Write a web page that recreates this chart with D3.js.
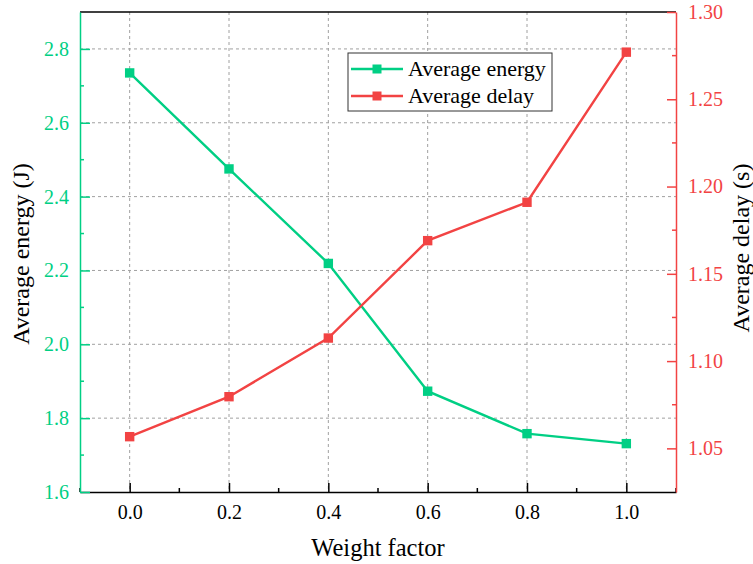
<!DOCTYPE html>
<meta charset="utf-8">
<style>
 body { margin: 0; background: #fff; }
 svg text { font-family: "Liberation Serif", "Times New Roman", serif; }
 .grid line { stroke: #a0a0a0; stroke-dasharray: 3,3; stroke-width: 1; }
</style>
<body>
<script src="https://cdn.jsdelivr.net/npm/d3@7"></script>
<script>

 // data
 var weights = [0.0, 0.2, 0.4, 0.6, 0.8, 1.0];
 var energy  = [2.735, 2.475, 2.219, 1.873, 1.758, 1.731];
 var delay   = [1.0567, 1.0796, 1.1132, 1.169, 1.191, 1.277];
 var energyTicks = [1.6, 1.8, 2.0, 2.2, 2.4, 2.6, 2.8];
 var delayTicks  = [1.05, 1.10, 1.15, 1.20, 1.25, 1.30];

 var green = "#00cf84",
     red = "#f24343";

 var margin = {top: 12, right: 77, bottom: 72, left: 80},
     width = 753 - margin.left - margin.right,
     height = 564 - margin.top - margin.bottom;

 var x = d3.scaleLinear().domain([-0.1, 1.1]).range([0, width]);
 var yE = d3.scaleLinear().domain([1.6, 2.9]).range([height, 0]);
 var yD = d3.scaleLinear().domain([1.025, 1.30]).range([height, 0]);

 var svg = d3.select("body").append("svg")
     .attr("width", 753)
     .attr("height", 564)
   .append("g")
     .attr("transform", "translate(" + margin.left + "," + margin.top + ")");

 // grid
 var grid = svg.append("g").attr("class", "grid");
 grid.selectAll(".vg").data(weights).enter().append("line")
     .attr("x1", d => x(d)).attr("x2", d => x(d))
     .attr("y1", 0).attr("y2", height);
 grid.selectAll(".hg").data(energyTicks.slice(1)).enter().append("line")
     .attr("x1", 0).attr("x2", width)
     .attr("y1", d => yE(d)).attr("y2", d => yE(d));

 // top frame line
 svg.append("line")
     .attr("x1", 0).attr("x2", width).attr("y1", 0).attr("y2", 0)
     .attr("stroke", "#000").attr("stroke-width", 1.5);

 function styleAxis(g, color, fontSize) {
     g.attr("font-family", null);
     g.select(".domain").attr("stroke", color).attr("stroke-width", 1.5);
     g.selectAll(".tick line").attr("stroke", color).attr("stroke-width", 1.5);
     g.selectAll(".tick text").attr("fill", color)
      .style("font-family", '"Liberation Serif", serif')
      .style("font-size", fontSize + "px");
 }

 // minor ticks
 var xMinor = d3.range(-0.1, 1.11, 0.2).map(d => Math.round(d * 10) / 10);
 var eMinor = d3.range(1.7, 2.9, 0.2).map(d => Math.round(d * 10) / 10);
 var dMinor = d3.range(1.075, 1.30, 0.05).map(d => Math.round(d * 1000) / 1000);

 var gx = svg.append("g").attr("transform", "translate(0," + height + ")")
     .call(d3.axisBottom(x).tickValues(weights).tickFormat(d3.format(".1f"))
           .tickSizeInner(-9).tickSizeOuter(0).tickPadding(13));
 styleAxis(gx, "#000", 20);
 gx.selectAll(".minor").data(xMinor).enter().append("line")
     .attr("x1", d => x(d)).attr("x2", d => x(d)).attr("y1", 0).attr("y2", -4)
     .attr("stroke", "#000").attr("stroke-width", 1.5);

 var gl = svg.append("g")
     .call(d3.axisLeft(yE).tickValues(energyTicks).tickFormat(d3.format(".1f"))
           .tickSizeInner(-10).tickSizeOuter(0).tickPadding(11));
 styleAxis(gl, green, 20);
 gl.selectAll(".minor").data(eMinor).enter().append("line")
     .attr("x1", 0).attr("x2", 4).attr("y1", d => yE(d)).attr("y2", d => yE(d))
     .attr("stroke", green).attr("stroke-width", 1.5);

 var gr = svg.append("g").attr("transform", "translate(" + width + ",0)")
     .call(d3.axisRight(yD).tickValues(delayTicks).tickFormat(d3.format(".2f"))
           .tickSizeInner(-9).tickSizeOuter(0).tickPadding(12));
 styleAxis(gr, red, 20);
 gr.selectAll(".minor").data(dMinor).enter().append("line")
     .attr("x1", 0).attr("x2", -4).attr("y1", d => yD(d)).attr("y2", d => yD(d))
     .attr("stroke", red).attr("stroke-width", 1.5);

 // axis titles
 svg.append("text")
     .attr("transform", "translate(" + (-51) + "," + (height / 2 + 2) + ") rotate(-90)")
     .attr("text-anchor", "middle").attr("font-size", 24)
     .text("Average energy (J)");
 svg.append("text")
     .attr("transform", "translate(" + (width + 73) + "," + (height / 2 - 4) + ") rotate(-90)")
     .attr("text-anchor", "middle").attr("font-size", 24)
     .text("Average delay (s)");
 svg.append("text")
     .attr("x", x(0.5)).attr("y", height + 64)
     .attr("text-anchor", "middle").attr("font-size", 24.5)
     .text("Weight factor");

 // series
 var series = [
     {name: "Average energy", values: energy, y: yE, color: green},
     {name: "Average delay", values: delay, y: yD, color: red}
 ];

 series.forEach(function(s) {
     var pts = weights.map((w, i) => [w, s.values[i]]);
     svg.append("path")
         .datum(pts)
         .attr("fill", "none")
         .attr("stroke", s.color)
         .attr("stroke-width", 2.4)
         .attr("d", d3.line().x(d => x(d[0])).y(d => s.y(d[1])));
     svg.selectAll(null).data(pts).enter().append("rect")
         .attr("x", d => x(d[0]) - 4.7).attr("y", d => s.y(d[1]) - 4.7)
         .attr("width", 9.4).attr("height", 9.4)
         .attr("fill", s.color);
 });

 // legend
 var lg = svg.append("g").attr("transform", "translate(" + (348 - margin.left) + "," + (53 - margin.top) + ")");
 lg.append("rect").attr("width", 204).attr("height", 58)
     .attr("fill", "#fff").attr("stroke", "#333").attr("stroke-width", 1);
 series.forEach(function(s, i) {
     var yy = 16 + i * 27;
     lg.append("line").attr("x1", 3).attr("x2", 55).attr("y1", yy).attr("y2", yy)
         .attr("stroke", s.color).attr("stroke-width", 2.4);
     lg.append("rect").attr("x", 29 - 4.5).attr("y", yy - 4.5).attr("width", 9).attr("height", 9)
         .attr("fill", s.color);
     lg.append("text").attr("x", 60).attr("y", yy + 7).attr("font-size", 22)
         .text(s.name);
 });

</script>
